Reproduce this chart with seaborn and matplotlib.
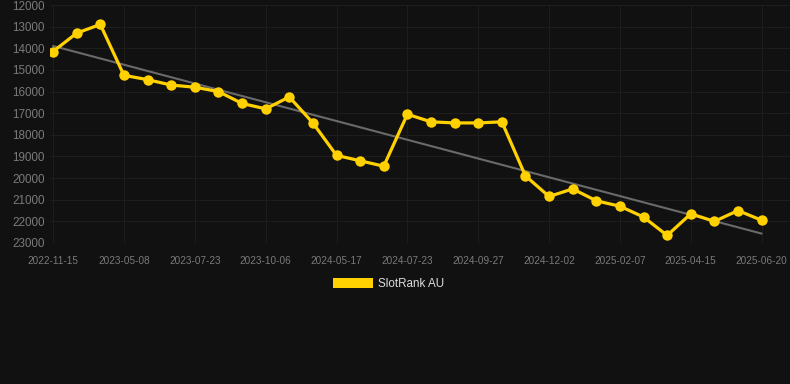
"""
SlotRank AU rank history, dark theme.
"""

import matplotlib

matplotlib.use("Agg")

import matplotlib.pyplot as plt
import numpy as np
import pandas as pd
import seaborn as sns
from matplotlib.patches import Patch

# Data
dates = [
    "2022-11-15", "", "", "2023-05-08", "", "", "2023-07-23", "", "",
    "2023-10-06", "", "", "2024-05-17", "", "", "2024-07-23", "", "",
    "2024-09-27", "", "", "2024-12-02", "", "", "2025-02-07", "", "",
    "2025-04-15", "", "", "2025-06-20",
]
ranks = [
    14150, 13300, 12900, 15250, 15450, 15700, 15800, 16000, 16550, 16800,
    16250, 17450, 18950, 19200, 19450, 17050, 17400, 17450, 17450, 17400,
    19900, 20850, 20500, 21050, 21300, 21800, 22650, 21650, 22000, 21500,
    21950,
]
y_ticks = [12000, 13000, 14000, 15000, 16000, 17000, 18000, 19000, 20000,
           21000, 22000, 23000]
series_name = "SlotRank AU"

BG = "#111111"
GRID = "#1d1d1d"
YELLOW = "#ffd100"
TICK = "#7a7a7a"

sns.set_style("dark")
plt.rcParams["font.family"] = ["Liberation Sans", "DejaVu Sans"]

df = pd.DataFrame({"idx": np.arange(len(ranks)), "rank": ranks})

fig = plt.figure(figsize=(7.9, 3.84), dpi=100, facecolor=BG)
ax = fig.add_axes([50 / 790, 1 - 243 / 384, 740 / 790, 238 / 384])
ax.set_facecolor(BG)

# trend line (least squares over the series)
coef = np.polyfit(df["idx"], df["rank"], 1)
ax.plot(df["idx"], np.polyval(coef, df["idx"]), color="#6a6a6a", lw=1.5, zorder=2)

sns.lineplot(
    data=df, x="idx", y="rank", color=YELLOW, lw=2.3, marker="o",
    markersize=7.5, markeredgewidth=0, ax=ax, zorder=3,
)

ax.set_xlim(-0.13, 31.2)
ax.set_ylim(23000, 12000)
ax.set_yticks(y_ticks)
ax.set_yticklabels([str(v) for v in y_ticks], fontsize=8.4, color=TICK)

tick_pos = [i for i, d in enumerate(dates) if d]
ax.set_xticks(tick_pos)
ax.set_xticklabels([dates[i] for i in tick_pos], fontsize=7.2, color=TICK)
ax.tick_params(axis="both", length=0, pad=4)
ax.tick_params(axis="x", pad=9)

ax.grid(True, color=GRID, lw=0.8)
ax.set_xlabel("")
ax.set_ylabel("")
for s in ax.spines.values():
    s.set_visible(False)

fig.legend(
    handles=[Patch(facecolor=YELLOW, edgecolor="none", label=series_name)],
    loc="center", bbox_to_anchor=(0.492, 1 - 284 / 384), frameon=False,
    fontsize=8.4, labelcolor="#dddddd", handlelength=3.4, handleheight=1.0,
    handletextpad=0.5,
)

fig.savefig("out.png", dpi=100, facecolor=BG)
